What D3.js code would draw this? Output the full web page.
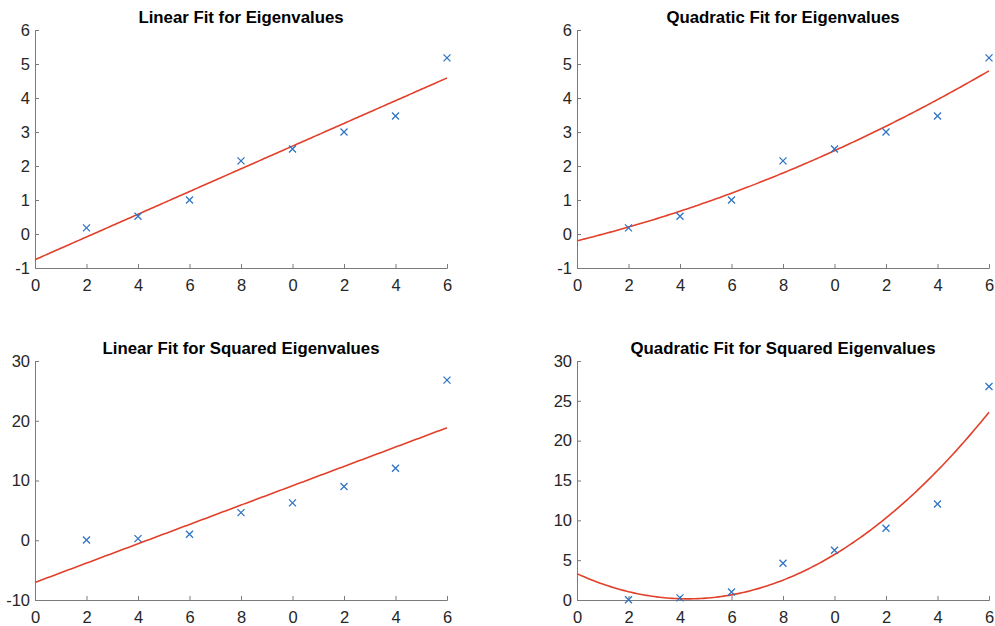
<!DOCTYPE html>
<html>
<head>
<meta charset="utf-8">
<script src="https://cdn.jsdelivr.net/npm/d3@7"></script>
<style>
  body { margin: 0; background: #fff; }
  svg { display: block; }
</style>
</head>
<body>
<svg width="995" height="626"></svg>
<script>
// sample positions and measured values
var xs = [2, 4, 6, 8, 10, 12, 14, 16];
var eig = [0.18, 0.52, 1.0, 2.15, 2.5, 3.0, 3.47, 5.18];
var eigSq = [0.03, 0.27, 1.0, 4.62, 6.25, 9.0, 12.04, 26.8];

// polynomial fit coefficients [c0, c1, c2]
var linEig = [-0.755, 0.334, 0];
var quadEig = [-0.2, 0.186, 0.0079];
var linSq = [-7.06, 1.618, 0];
var quadSq = [3.3, -1.469, 0.171];

var xTicks = [0, 2, 4, 6, 8, 10, 12, 14, 16];
var xTickLabels = ['0', '2', '4', '6', '8', '0', '2', '4', '6'];
var yTicksEig = [-1, 0, 1, 2, 3, 4, 5, 6];
var yTicksLinSq = [-10, 0, 10, 20, 30];
var yTicksQuadSq = [0, 5, 10, 15, 20, 25, 30];

var titles = [
  'Linear Fit for Eigenvalues',
  'Quadratic Fit for Eigenvalues',
  'Linear Fit for Squared Eigenvalues',
  'Quadratic Fit for Squared Eigenvalues'
];

var lineColor = '#e2402a',
  markColor = '#2f73c4',
  axisColor = '#7a7a7a',
  textColor = '#262626';

var panels = [
  {title: titles[0], x0: 35, x1: 447, y0: 30, y1: 268, ydom: [-1, 6], yt: yTicksEig, ys: eig, c: linEig},
  {title: titles[1], x0: 577, x1: 989, y0: 30, y1: 268, ydom: [-1, 6], yt: yTicksEig, ys: eig, c: quadEig},
  {title: titles[2], x0: 35, x1: 447, y0: 361, y1: 600, ydom: [-10, 30], yt: yTicksLinSq, ys: eigSq, c: linSq},
  {title: titles[3], x0: 577, x1: 989, y0: 361, y1: 600, ydom: [0, 30], yt: yTicksQuadSq, ys: eigSq, c: quadSq}
];

var svg = d3.select('svg');
var font = '"Liberation Sans", Arial, Helvetica, sans-serif';

panels.forEach(function(p) {
  var x = d3.scaleLinear().domain([0, 16]).range([p.x0, p.x1]),
    y = d3.scaleLinear().domain(p.ydom).range([p.y1, p.y0]);

  var g = svg.append('g');

  var xAxis = g
    .append('g')
    .attr('transform', 'translate(0,' + p.y1 + ')')
    .call(
      d3.axisBottom(x)
        .tickValues(xTicks)
        .tickSize(-4)
        .tickPadding(9)
        .tickFormat((d, i) => xTickLabels[i])
    );

  var yAxis = g
    .append('g')
    .attr('transform', 'translate(' + p.x0 + ',0)')
    .call(
      d3.axisLeft(y)
        .tickValues(p.yt)
        .tickSize(-4)
        .tickPadding(5)
        .tickFormat(d => String(d))
    );

  [xAxis, yAxis].forEach(function(a) {
    a.select('.domain').attr('stroke', axisColor);
    a.selectAll('.tick line').attr('stroke', axisColor);
    a.selectAll('.tick text')
      .attr('fill', textColor)
      .style('font', '16.5px ' + font);
  });
  xAxis.selectAll('.tick text').attr('dy', '0.85em');

  // fitted curve
  var fit = c => d => c[0] + c[1] * d + c[2] * d * d;
  var f = fit(p.c);
  var line = d3
    .line()
    .x(d => x(d))
    .y(d => y(f(d)));
  g.append('path')
    .attr('d', line(d3.range(0, 16.001, 0.1)))
    .attr('fill', 'none')
    .attr('stroke', lineColor)
    .attr('stroke-width', 1.6);

  // data markers
  g.selectAll('.mark')
    .data(xs)
    .enter()
    .append('path')
    .attr('class', 'mark')
    .attr('transform', (d, i) => 'translate(' + x(d) + ',' + y(p.ys[i]) + ')')
    .attr('d', 'M-3.5,-3.5L3.5,3.5M-3.5,3.5L3.5,-3.5')
    .attr('stroke', markColor)
    .attr('stroke-width', 1.3);

  g.append('text')
    .attr('x', (p.x0 + p.x1) / 2)
    .attr('y', p.y0 - 7)
    .attr('text-anchor', 'middle')
    .attr('fill', '#000')
    .style('font', 'bold 16.8px ' + font)
    .text(p.title);
});
</script>
</body>
</html>
